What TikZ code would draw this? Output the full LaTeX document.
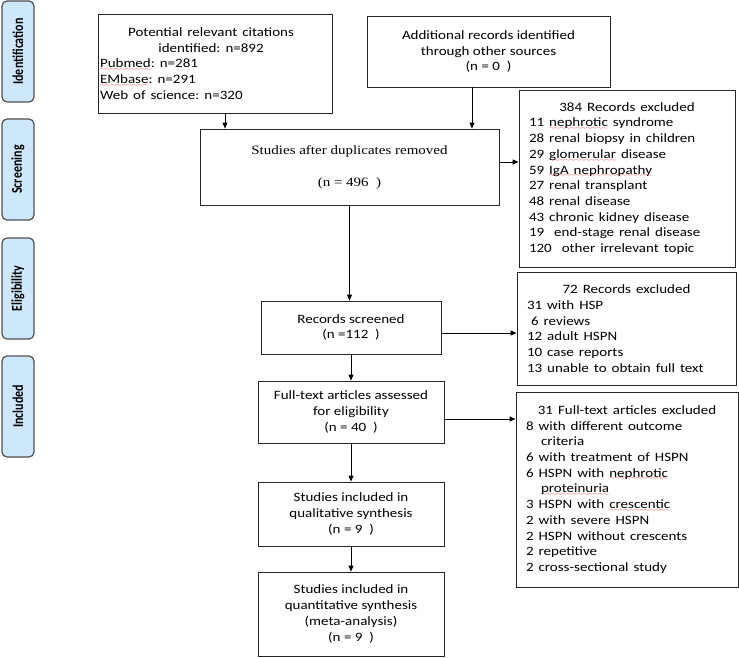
\documentclass[tikz,border=0pt]{standalone}
\usepackage{fontspec}
\setmainfont{Carlito}
\newfontfamily\timesfont{Liberation Serif}
\usepackage{graphicx}
\usetikzlibrary{arrows.meta}
\definecolor{stagefill}{RGB}{206,232,251}
\definecolor{stageline}{RGB}{80,80,80}
\frenchspacing
\font\wavefont=lasy6
\newsavebox{\typobox}
\newcommand{\typo}[1]{\leavevmode\sbox{\typobox}{#1}%
  \rlap{\textcolor{red}{\lower3.2pt\hbox to\wd\typobox{\xleaders\hbox{\wavefont\char58}\hfil}}}%
  \usebox{\typobox}}
\newcommand{\ctline}[1]{\makebox[\linewidth][c]{#1}}
\tikzset{
  box/.style={draw=black!85, line width=.9pt, transform shape, yscale=.85,
    inner xsep=2pt, inner ysep=0pt, font=\fontsize{15}{18.5}\selectfont},
  dims/.style 2 args={minimum width=#1pt, minimum height=#2pt/.85},
  exbox/.style={box, inner xsep=10pt, align=left},
  arr/.style={-{Triangle[length=6pt,width=5pt]}, line width=.9pt},
  stage/.style={draw=stageline, fill=stagefill, line width=1.2pt, rounded corners=5pt,
    rotate=90, minimum width=101pt, minimum height=32pt, inner sep=0pt,
    font=\fontsize{15}{15}\selectfont\bfseries}
}

\begin{document}
\begin{tikzpicture}[x=1pt, y=-1pt]
\useasboundingbox (0,0) rectangle (739,658);

% stages on the left
\foreach \y/\name [count=\i] in {51.5/Identification, 169.5/Screening, 288.5/Eligibility, 406.5/Included} {
  \node[stage] (s\i) at (18,\y) {\scalebox{.8}[1]{\name}};
}

% identification
\node[box, dims={234}{99}, text width=230pt, align=left] (cit) at (215,63.5)
  {\ctline{Potential relevant citations\hspace{8pt}}\\
   \ctline{identified: n=892\hspace{8pt}}\\
   \typo{Pubmed}: n=281\\
   \typo{EMbase}: n=291\\
   Web of science: n=320};
\node[box, dims={243}{71}, align=center] (add) at (488.5,51.5)
  {Additional records identified\\through other sources\\(n = 0 \ )};

% screening
\node[box, dims={299}{76}, align=center, font=\timesfont\fontsize{15}{18.5}\selectfont] (dup) at (349.5,167)
  {Studies after duplicates removed\\[19pt](n = 496 \ )};
\node[exbox, dims={216}{177}, text width=196pt] (ex1) at (627,178.5)
  {\ctline{384 Records excluded}\\
   11 \typo{nephrotic} syndrome\\
   28 renal biopsy in children\\
   29 \typo{glomerular} disease\\
   59 \typo{IgA nephropathy}\\
   27 renal transplant\\
   48 renal disease\\
   43 chronic kidney disease\\
   19\ \ end-stage renal disease\\
   120\ \ other irrelevant topic};

% eligibility
\node[box, dims={180}{53}, align=center] (scr) at (351,327.5)
  {Records screened\\(n =112 \ )};
\node[exbox, dims={219}{113}, text width=199pt] (ex2) at (626.5,328.5)
  {\ctline{72 Records excluded}\\
   31 with HSP\\
   \hspace*{4pt}6 reviews\\
   12 adult HSPN\\
   10 case reports\\
   13 unable to obtain full text};
\node[box, dims={186}{62}, align=center] (full) at (351,412)
  {Full-text articles assessed\\for eligibility\\(n = 40 \ )};
\node[exbox, dims={222}{195}, text width=202pt] (ex3) at (627,489.5)
  {\ctline{31 Full-text articles excluded}\\
   8 with different outcome\\
   \hspace*{15pt}criteria\\
   6 with treatment of HSPN\\
   6 HSPN with \typo{nephrotic}\\
   \hspace*{15pt}\typo{proteinuria}\\
   3 HSPN with \typo{crescentic}\\
   2 with severe HSPN\\
   2 HSPN without crescents\\
   2 repetitive\\
   2 cross-sectional study};

% included
\node[box, dims={186}{64}, align=center] (qual) at (351,514)
  {Studies included in\\qualitative synthesis\\(n = 9 \ )};
\node[box, dims={186}{84}, align=center] (quant) at (351,614)
  {Studies included in\\quantitative synthesis\\(meta-analysis)\\(n = 9 \ )};

% arrows
\draw[arr] ([xshift=10pt]cit.south) -- ([xshift=10pt]cit.south |- dup.north);
\draw[arr] ([xshift=-16.5pt]add.south) -- ([xshift=-16.5pt]add.south |- dup.north);
\draw[arr] ([yshift=5pt]dup.east) -- ([yshift=5pt]dup.east -| ex1.west);
\draw[arr] (dup.south) -- (dup.south |- scr.north);
\draw[arr] ([yshift=-5.5pt]scr.east) -- ([yshift=-5.5pt]scr.east -| ex2.west);
\draw[arr] (scr.south) -- (full.north);
\draw[arr] ([yshift=-7pt]full.east) -- ([yshift=-7pt]full.east -| ex3.west);
\draw[arr] (full.south) -- (qual.north);
\draw[arr] (qual.south) -- (quant.north);
\end{tikzpicture}
\end{document}
